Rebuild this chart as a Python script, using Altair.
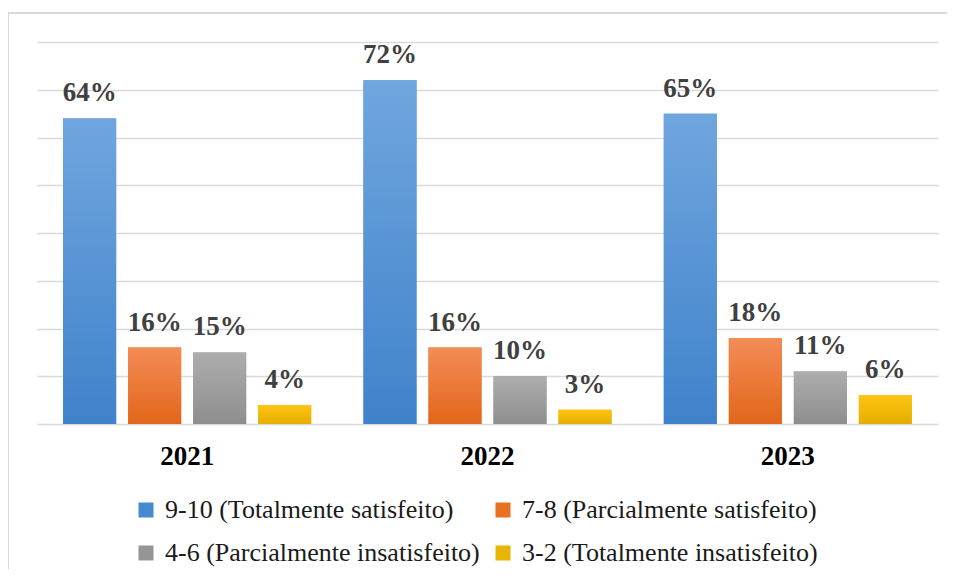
import altair as alt
import pandas as pd

years = ["2021", "2022", "2023"]
categories = [
    "9-10 (Totalmente satisfeito)",
    "7-8 (Parcialmente satisfeito)",
    "4-6 (Parcialmente insatisfeito)",
    "3-2 (Totalmente insatisfeito)",
]
v_9_10 = [64, 72, 65]
v_7_8 = [16, 16, 18]
v_4_6 = [15, 10, 11]
v_3_2 = [4, 3, 6]

FONT = "Times New Roman"
flat_colors = ["#4589cf", "#e8701f", "#959595", "#e8b500"]
grad_stops = [
    ("#70a6de", "#3f82cb"),
    ("#f38c56", "#e2661a"),
    ("#adadad", "#8e8e8e"),
    ("#ffc413", "#e4ae00"),
]

series = [v_9_10, v_7_8, v_4_6, v_3_2]
rows = []
for c, vals in zip(categories, series):
    for y, v in zip(years, vals):
        rows.append({"year": y, "cat": c, "val": v, "lab": f"{v}%"})
df = pd.DataFrame(rows)

x_enc = alt.X(
    "year:N",
    sort=years,
    scale=alt.Scale(paddingInner=0, paddingOuter=0),
    axis=alt.Axis(
        title=None,
        labelAngle=0,
        labelFont=FONT,
        labelFontWeight="bold",
        labelFontSize=27,
        labelColor="#000000",
        labelPadding=19,
        ticks=False,
        domain=False,
        grid=False,
    ),
)
xo_enc = alt.XOffset(
    "cat:N",
    sort=categories,
    scale=alt.Scale(domain=categories, paddingInner=0.1846, paddingOuter=0.402),
)
y_enc = alt.Y(
    "val:Q",
    scale=alt.Scale(domain=[0, 80], nice=False),
    axis=alt.Axis(
        title=None,
        values=list(range(0, 90, 10)),
        labels=False,
        ticks=False,
        domain=False,
        gridColor="#d9d9d9",
        gridWidth=1.5,
    ),
)

base = alt.Chart(df).encode(x=x_enc, xOffset=xo_enc, y=y_enc)

legend_bars = base.mark_bar().encode(
    color=alt.Color(
        "cat:N",
        sort=categories,
        scale=alt.Scale(domain=categories, range=flat_colors),
        legend=alt.Legend(
            title=None,
            orient="none",
            legendX=96,
            legendY=455,
            columns=2,
            direction="horizontal",
            symbolType="square",
            symbolSize=225,
            symbolStrokeWidth=0,
            labelFont=FONT,
            labelFontSize=26,
            labelColor="#1a1a1a",
            labelLimit=0,
            labelOffset=6,
            rowPadding=17,
            columnPadding=10,
            padding=0,
        ),
    )
)

grad_layers = []
for c, (top, bot) in zip(categories, grad_stops):
    grad_layers.append(
        base.transform_filter(alt.datum.cat == c).mark_bar(
            color=alt.Gradient(
                gradient="linear",
                stops=[
                    alt.GradientStop(color=top, offset=0),
                    alt.GradientStop(color=bot, offset=1),
                ],
                x1=0, x2=0, y1=0, y2=1,
            )
        )
    )

labels = base.mark_text(
    font=FONT,
    fontWeight="bold",
    fontSize=27,
    color="#404040",
    baseline="alphabetic",
    dy=-17,
).encode(text="lab:N")

frame_df = pd.DataFrame({"k": [0]})
left_border = alt.Chart(frame_df).mark_rule(color="#d9d9d9", strokeWidth=2).encode(
    x=alt.value(-29), y=alt.value(-29), y2=alt.value(700)
)
top_border = alt.Chart(frame_df).mark_rule(color="#d9d9d9", strokeWidth=2).encode(
    x=alt.value(-29), x2=alt.value(1000), y=alt.value(-29)
)

chart = alt.layer(
    left_border, top_border, legend_bars, *grad_layers, labels
).properties(
    width=901,
    height=382,
    padding={"left": 29, "top": 34, "right": 9, "bottom": 145},
    autosize=alt.AutoSizeParams(type="none"),
).configure_view(stroke=None)

chart.save("out.html", embed_options={"renderer": "svg", "actions": False})
